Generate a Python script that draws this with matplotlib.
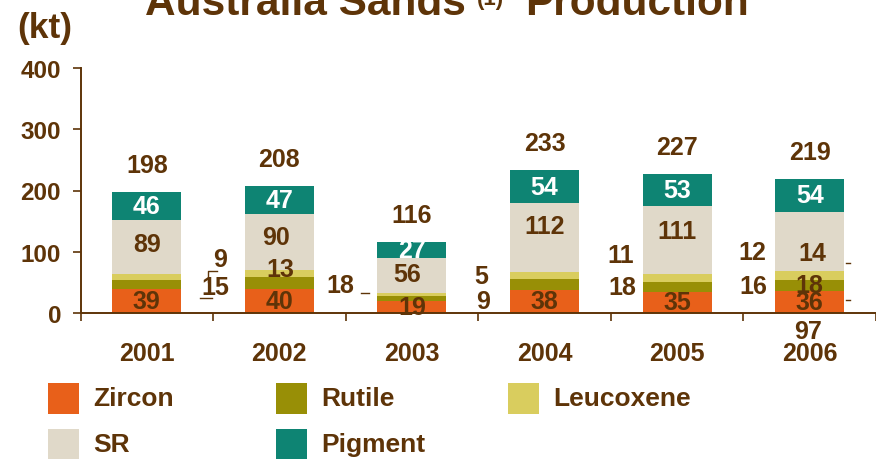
""" Australia mineral sands production, stacked bars by product (kt). """

import numpy as np
import matplotlib.pyplot as plt
from matplotlib.patches import Rectangle

years = ["2001", "2002", "2003", "2004", "2005", "2006"]
series = ["Zircon", "Rutile", "Leucoxene", "SR", "Pigment"]
zircon = [39, 40, 19, 38, 35, 36]
rutile = [15, 18, 9, 18, 16, 18]
leucoxene = [9, 13, 5, 11, 12, 14]
sr = [89, 90, 56, 112, 111, 97]
pigment = [46, 47, 27, 54, 53, 54]

colors = ["#E8601A", "#988F06", "#D9CD5E", "#E0D9C9", "#0E8473"]
brown = "#5E3408"
plt.rcParams["font.family"] = ["Liberation Sans", "DejaVu Sans"]
plt.rcParams["font.weight"] = "bold"

# label spots that the original slide had moved away from the segment centre
# (year index, series index) -> (x, y) in data units
moved = {
    (0, 1): (0.518, 42.4), (0, 2): (0.556, 88.2), (0, 3): (0.0, 112.7),
    (1, 1): (1.461, 45.7), (1, 2): (1.008, 71.8), (1, 3): (0.978, 124.0),
    (2, 1): (2.539, 19.6), (2, 2): (2.524, 60.4), (2, 3): (1.966, 63.7),
    (3, 1): (3.587, 42.4), (3, 2): (3.572, 93.9), (3, 3): (3.0, 142.0),
    (4, 1): (4.575, 44.1), (4, 2): (4.568, 99.6), (4, 3): (4.0, 133.9),
    (5, 2): (5.02, 97.9), (5, 3): (4.99, -28.6),
}
# little leader strokes left over next to some labels
leaders = [
    ([0.465, 0.465, 0.533], [50.6, 68.6, 68.6]),
    ([0.405, 0.495], [24.5, 24.5]),
    ([1.612, 1.679], [32.7, 32.7]),
    ([5.277, 5.307], [81.6, 81.6]),
    ([5.277, 5.307], [21.2, 21.2]),
]

fig = plt.figure(figsize=(8.76, 4.6), dpi=100)
ax = fig.add_axes([80.5 / 876, 1 - 314 / 460, 1 - 80.5 / 876, 245 / 460])

data = np.array([zircon, rutile, leucoxene, sr, pigment])
x = np.arange(len(years))
bottom = np.zeros(len(years))
for i, name in enumerate(series):
    ax.bar(x, data[i], 0.52, bottom=bottom, color=colors[i], label=name)
    for j in range(len(years)):
        lx, ly = moved.get((j, i), (x[j], bottom[j] + data[i][j] / 2))
        ax.text(lx, ly, str(data[i][j]), ha="center", va="center",
                fontsize=18, fontweight="bold",
                color="white" if name == "Pigment" else brown, clip_on=False)
    bottom += data[i]

for j, tot in enumerate(bottom):
    ax.annotate(str(int(tot)), (x[j], tot), xytext=(0, 19.5),
                textcoords="offset points", ha="center", va="center",
                fontsize=18, fontweight="bold", color=brown)

for lx, ly in leaders:
    ax.plot(lx, ly, color=brown, lw=1.0, clip_on=False)

ax.set_xlim(-0.5, 5.5)
ax.set_ylim(0, 400)
ax.set_yticks([0, 100, 200, 300, 400])
ax.set_xticks(x)
ax.set_xticklabels(years)
ax.set_xticks(np.arange(-0.5, 6, 1), minor=True)
for s in ["top", "right"]:
    ax.spines[s].set_visible(False)
for s in ["left", "bottom"]:
    ax.spines[s].set_color(brown)
    ax.spines[s].set_linewidth(1.4)
ax.tick_params(axis="y", length=6, width=1.2, color=brown, pad=8,
               labelsize=17.5, labelcolor=brown)
ax.tick_params(axis="x", which="major", length=0, pad=20,
               labelsize=18, labelcolor=brown)
ax.tick_params(axis="x", which="minor", length=6, width=1.2, color=brown)

# title pieces, cut at the top like the source slide
fig.text(145 / 876, 1 - 15 / 460, "Australia Sands", fontsize=30.5,
         fontweight="bold", color=brown, va="baseline")
fig.text(477 / 876, 1 - 5 / 460, "(1)", fontsize=16,
         fontweight="bold", color=brown, va="baseline")
fig.text(525 / 876, 1 - 15 / 460, "Production", fontsize=30.5,
         fontweight="bold", color=brown, va="baseline")
fig.text(17 / 876, 1 - 38 / 460, "(kt)", fontsize=25.5,
         fontweight="bold", color=brown, va="baseline")

# legend laid out as on the slide: 3 on the first row, 2 on the second
spots = [(48, 384), (276, 384), (508, 384), (48, 430), (276, 430)]
for i, name in enumerate(series):
    px, py = spots[i]
    fig.patches.append(Rectangle((px / 876, 1 - (py + 31) / 460), 31 / 876,
                                 31 / 460, transform=fig.transFigure,
                                 facecolor=colors[i], edgecolor="none"))
    fig.text((px + 45) / 876, 1 - (py + 15.5) / 460, name, fontsize=19,
             fontweight="bold", color=brown, va="center")

plt.savefig("out.png")
